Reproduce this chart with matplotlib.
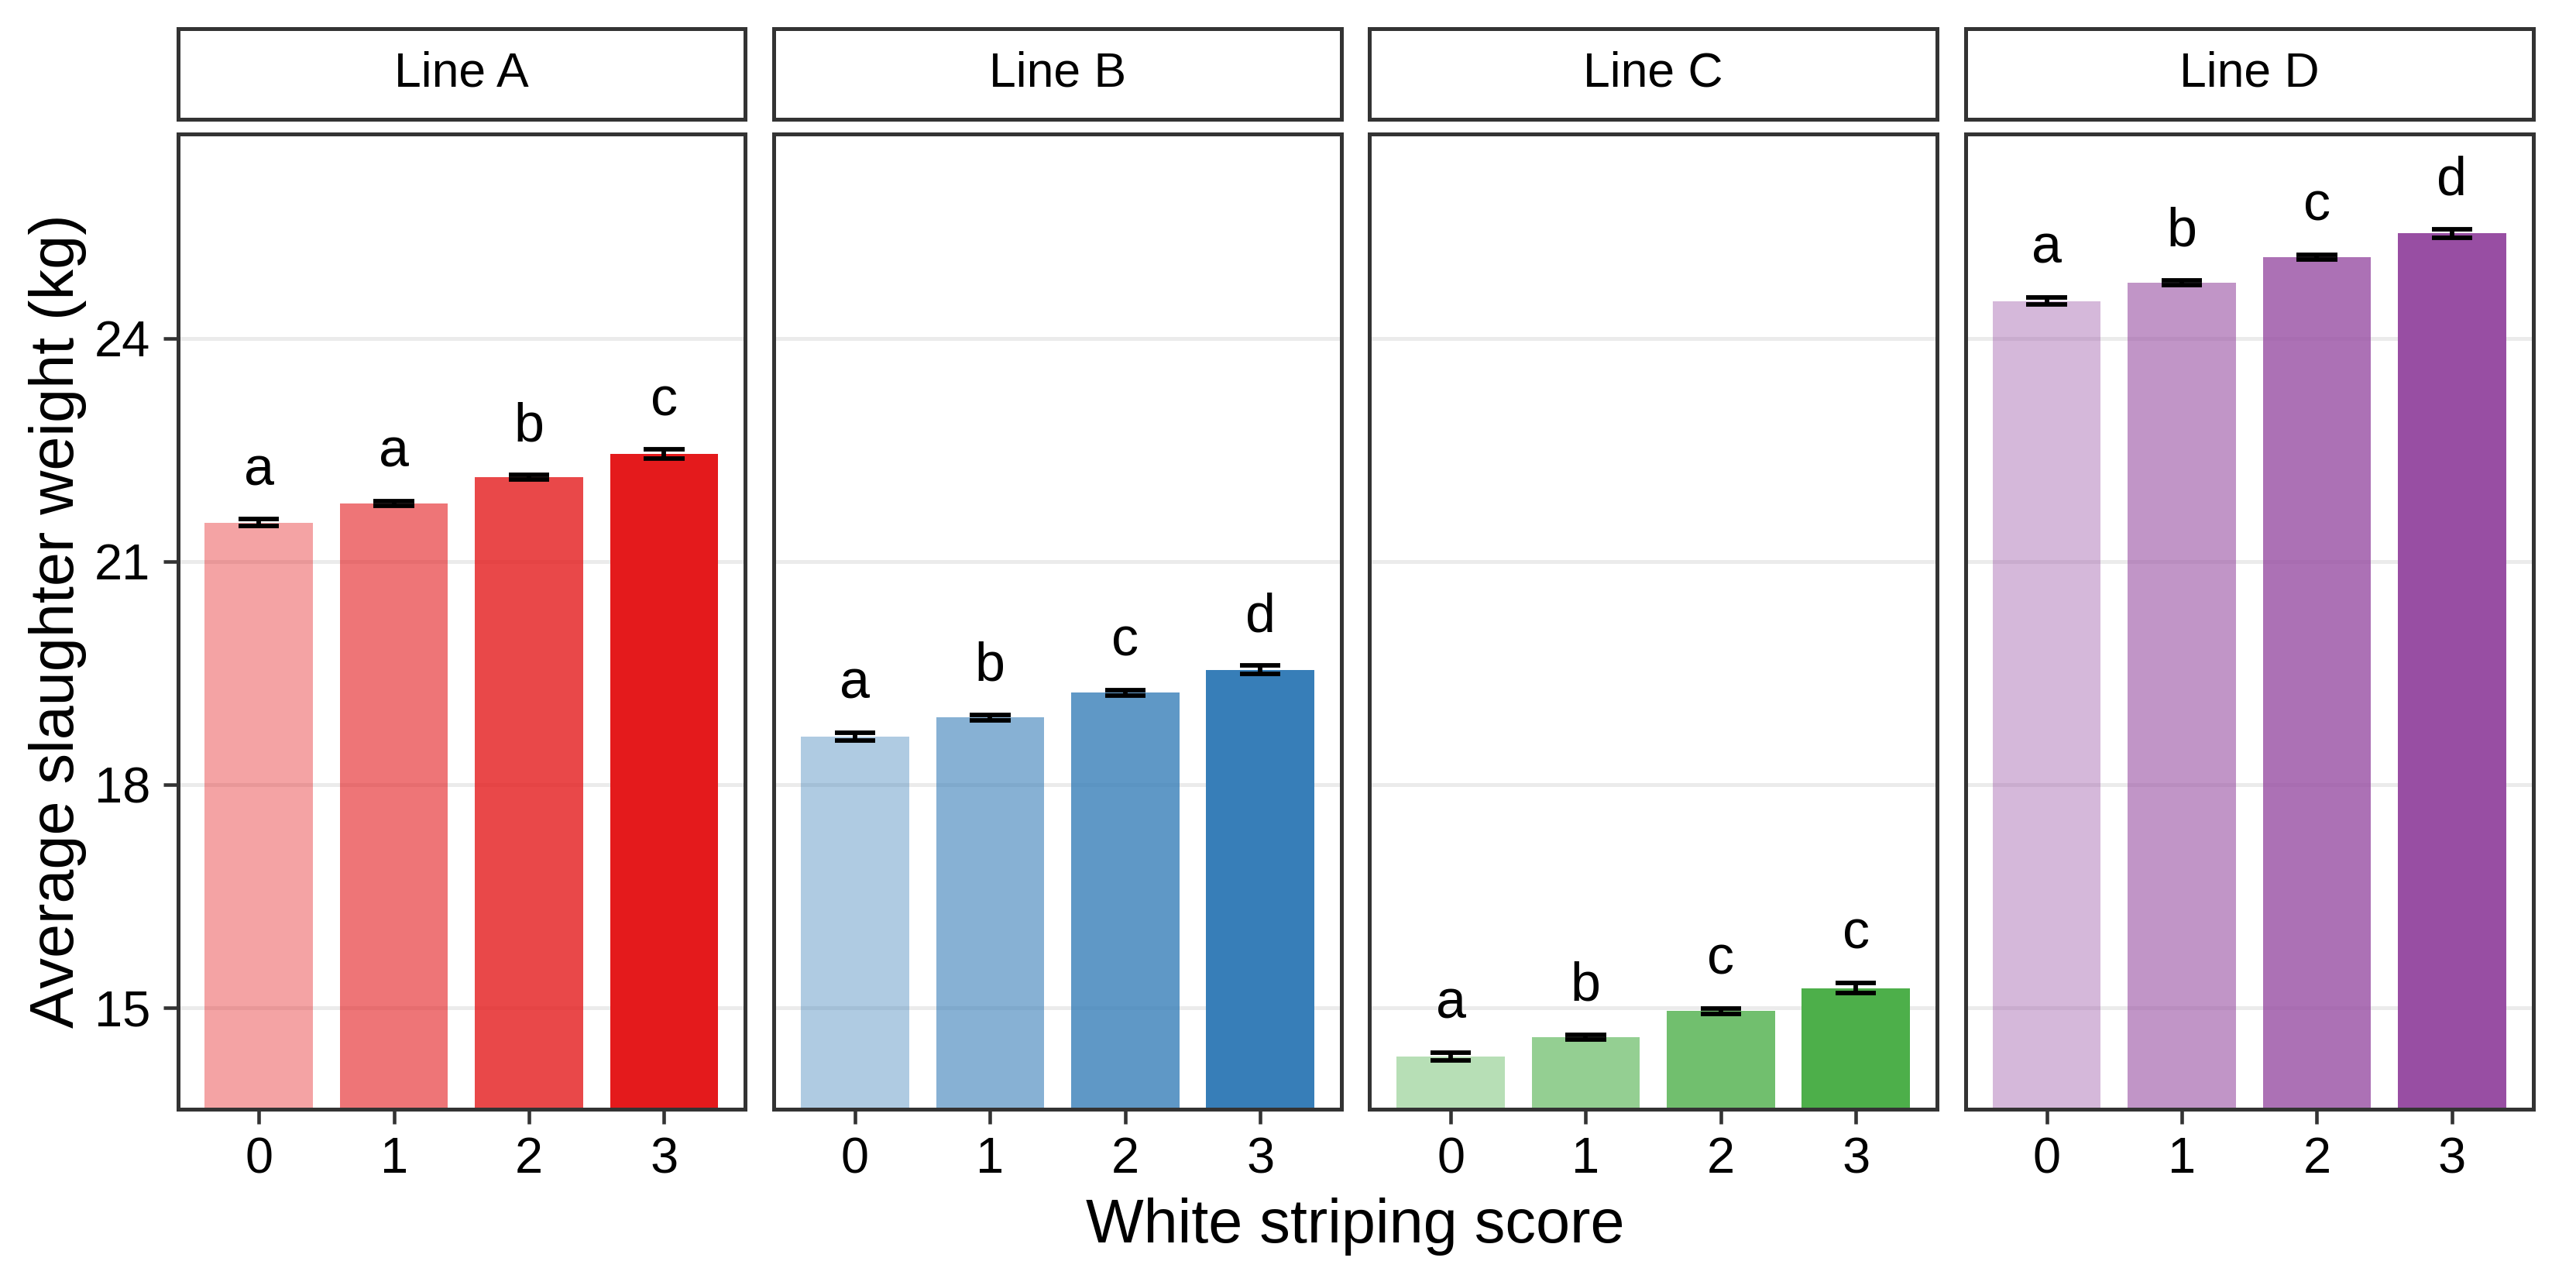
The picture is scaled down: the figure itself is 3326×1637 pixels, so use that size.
import numpy as np
import matplotlib
matplotlib.use("Agg")
from matplotlib import pyplot as plt
from matplotlib.colors import to_rgba

plt.rcParams['font.family'] = ['Liberation Sans', 'DejaVu Sans']

# data
lines = ["Line A", "Line B", "Line C", "Line D"]
scores = [0, 1, 2, 3]
score_labels = ["0", "1", "2", "3"]

mean_a = [21.52, 21.78, 22.13, 22.44]
mean_b = [18.64, 18.90, 19.23, 19.54]
mean_c = [14.34, 14.60, 14.95, 15.26]
mean_d = [24.50, 24.75, 25.09, 25.41]

se_a = [0.047, 0.03, 0.03, 0.062]
se_b = [0.055, 0.035, 0.035, 0.055]
se_c = [0.05, 0.035, 0.035, 0.07]
se_d = [0.05, 0.03, 0.035, 0.058]

letters_a = ["a", "a", "b", "c"]
letters_b = ["a", "b", "c", "d"]
letters_c = ["a", "b", "c", "c"]
letters_d = ["a", "b", "c", "d"]

base_colors = ["#E41A1C", "#377EB8", "#4DAF4A", "#984EA3"]
alphas = [0.4, 0.6, 0.8, 1.0]

y_ticks = [15, 18, 21, 24]

# layout in pixels
W, H = 3326, 1637
DPI = 300
fig = plt.figure(figsize=(W / DPI, H / DPI), dpi=DPI)


def box(l, t, r, b):
    return [l / W, 1 - b / H, (r - l) / W, (b - t) / H]


panel_left = [229.6, 999.3, 1768.4, 2538.0]
panel_w = 732.5
panel_top, panel_bot = 172.7, 1432.0
strip_top, strip_bot = 36.7, 154.0
dark = "#333333"

means = [mean_a, mean_b, mean_c, mean_d]
ses = [se_a, se_b, se_c, se_d]
letters = [letters_a, letters_b, letters_c, letters_d]

for i, name in enumerate(lines):
    l = panel_left[i]
    ax = fig.add_axes(box(l, panel_top, l + panel_w, panel_bot))
    m = np.array(means[i])
    s = np.array(ses[i])
    x = np.array(scores)
    cols = [to_rgba(base_colors[i], a) for a in alphas]
    ax.bar(x, m, width=0.8, color=cols, zorder=2)
    # error bars
    ax.vlines(x, m - s, m + s, color="black", lw=1.4, zorder=3)
    ax.hlines(m - s, x - 0.15, x + 0.15, color="black", lw=1.4, zorder=3)
    ax.hlines(m + s, x - 0.15, x + 0.15, color="black", lw=1.4, zorder=3)
    for xx, y, t in zip(x, m + s, letters[i]):
        ax.text(xx, y + 0.46, t, ha="center", va="baseline", fontsize=16.8, color="black", zorder=4)

    ax.set_xlim(-0.6, 3.6)
    ax.set_ylim(13.63, 26.75)
    ax.set_xticks(scores)
    ax.set_xticklabels(score_labels)
    ax.set_yticks(y_ticks)
    ax.set_yticklabels([str(v) for v in y_ticks])
    ax.set_axisbelow(True)
    ax.yaxis.grid(True, color="#EBEBEB", lw=1.2, zorder=0)
    ax.xaxis.grid(False)
    for sp in ax.spines.values():
        sp.set_color(dark)
        sp.set_linewidth(1.2)
    ax.tick_params(axis="both", length=4.5, width=1.1, color=dark, labelsize=15.6,
                   labelcolor="black", pad=4)
    if i > 0:
        ax.tick_params(axis="y", left=False, labelleft=False)

    # facet strip
    sa = fig.add_axes(box(l, strip_top, l + panel_w, strip_bot))
    sa.set_xticks([])
    sa.set_yticks([])
    sa.set_facecolor("white")
    for sp in sa.spines.values():
        sp.set_color(dark)
        sp.set_linewidth(1.2)
    sa.text(0.5, 0.5, name, ha="center", va="center", fontsize=15, transform=sa.transAxes)

fig.text(1750 / W, 1 - 1604 / H, "White striping score", ha="center", va="baseline", fontsize=19)
fig.text(75 / W, 1 - 802 / H, "Average slaughter weight (kg)", ha="center", va="center",
         rotation=90, fontsize=19)

fig.savefig("out.png", dpi=DPI, facecolor="white")
